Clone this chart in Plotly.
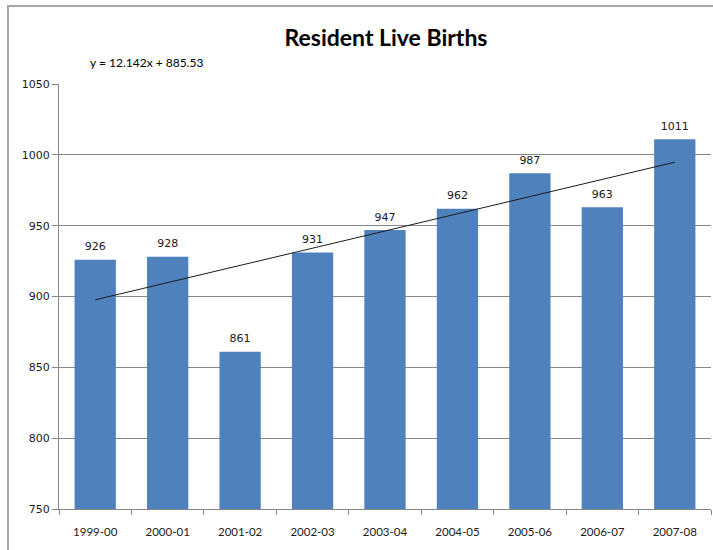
import plotly.graph_objects as go

# data
years = ["1999-00", "2000-01", "2001-02", "2002-03", "2003-04",
         "2004-05", "2005-06", "2006-07", "2007-08"]
births = [926, 928, 861, 931, 947, 962, 987, 963, 1011]

# linear trendline as printed on the chart: y = 12.142x + 885.53
trend_slope = 12.142
trend_intercept = 885.53

y_ticks = [750, 800, 850, 900, 950, 1000, 1050]

trend_x = [years[0], years[-1]]
trend_y = [trend_slope * 1 + trend_intercept,
           trend_slope * len(years) + trend_intercept]

fig = go.Figure()

fig.add_trace(go.Bar(
    x=years,
    y=births,
    marker=dict(color="#4F81BD", line=dict(width=0)),
    hoverinfo="x+y",
))

# value labels: an invisible marker pushes the text up off the bar top
fig.add_trace(go.Scatter(
    x=years,
    y=births,
    mode="markers+text",
    marker=dict(size=9, color="rgba(0,0,0,0)"),
    text=[str(v) for v in births],
    textposition="top center",
    textfont=dict(family="DejaVu Sans", size=11, color="#1a1a1a"),
    cliponaxis=False,
    hoverinfo="skip",
))

fig.add_trace(go.Scatter(
    x=trend_x,
    y=trend_y,
    mode="lines",
    line=dict(color="#1a1a1a", width=1),
    hoverinfo="skip",
))

fig.update_layout(
    width=713,
    height=550,
    margin=dict(l=59, r=2, t=84, b=41),
    paper_bgcolor="white",
    plot_bgcolor="white",
    showlegend=False,
    bargap=0.43,
    title=dict(
        text="<b>Resident Live Births</b>",
        x=386 / 713,
        xanchor="center",
        y=1 - 38 / 550,
        yanchor="middle",
        font=dict(family="Lato", size=23, color="black"),
    ),
    xaxis=dict(
        type="category",
        range=[-0.5, len(years) - 0.5],
        showgrid=False,
        showline=True,
        linecolor="#868686",
        linewidth=1,
        ticks="outside",
        tickson="boundaries",
        ticklen=5,
        tickcolor="#868686",
        ticklabelstandoff=12,
        tickfont=dict(family="Lato", size=11.5, color="#1a1a1a"),
        zeroline=False,
    ),
    yaxis=dict(
        range=[750, 1050],
        tickvals=y_ticks,
        showgrid=True,
        gridcolor="#868686",
        gridwidth=1,
        showline=True,
        linecolor="#868686",
        linewidth=1,
        ticks="outside",
        ticklen=6,
        tickcolor="#868686",
        tickfont=dict(family="DejaVu Sans", size=11, color="#1a1a1a"),
        zeroline=False,
    ),
    annotations=[dict(
        text="y = 12.142x + 885.53",
        xref="paper", yref="paper",
        x=(88 - 59) / 652, y=(509 - 62) / 425,
        xanchor="left", yanchor="middle",
        showarrow=False,
        font=dict(family="Lato", size=12, color="black"),
    )],
    shapes=[dict(
        type="rect",
        xref="paper", yref="paper",
        x0=(8 - 59) / 652, x1=1.02,
        y0=-0.15, y1=(509 - 6) / 425,
        line=dict(color="#a6a6a6", width=2),
        fillcolor="rgba(0,0,0,0)",
        layer="below",
    )],
)

# drop the browser's default body margin so the figure sits at the page corner
fig.write_html("out.html", config={"displayModeBar": False},
               post_script="document.body.style.margin='0';")
